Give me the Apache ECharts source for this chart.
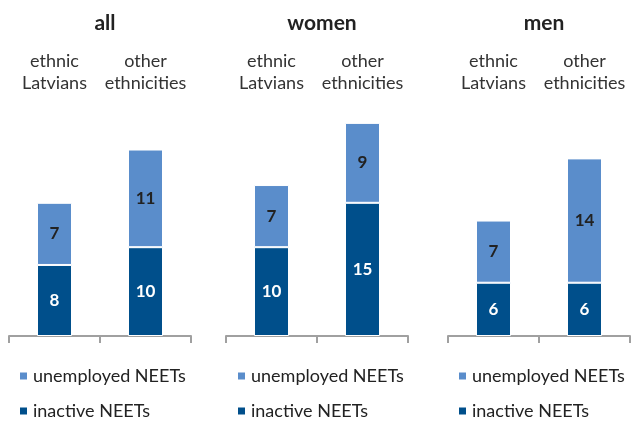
<!DOCTYPE html>
<html>
<head>
<meta charset="utf-8">
<script src="https://cdn.jsdelivr.net/npm/echarts@6/dist/echarts.min.js"></script>
<style>
  html, body { margin: 0; padding: 0; background: #fff; }
  #chart { width: 634px; height: 422px; }
</style>
</head>
<body>
<div id="chart"></div>
<script>
// NEETs by ethnicity, split into three groups
const panels = ['all', 'women', 'men'];
const categories = ['ethnic\nLatvians', 'other\nethnicities'];
const inactive = [[8, 10], [10, 15], [6, 6]];
const unemployed = [[7, 11], [7, 9], [7, 14]];
const seriesNames = ['unemployed NEETs', 'inactive NEETs'];

const FONT = 'Lato, "Open Sans", sans-serif';
const LIGHT = '#5A8DCB';
const DARK = '#004F8B';

const gridLefts = [9, 226, 448];
const gridWidth = 182;
const legendLefts = [18, 236, 457];
const legendTops = [367, 402];

const grids = [], xAxes = [], yAxes = [], series = [], titles = [], legends = [];

panels.forEach((name, i) => {
  grids.push({ left: gridLefts[i], width: gridWidth, top: 114, height: 222 });
  titles.push({
    text: name,
    left: gridLefts[i] + gridWidth / 2,
    top: 8,
    textAlign: 'center',
    textStyle: { fontFamily: FONT, fontSize: 21, fontWeight: 'bold', color: '#222' }
  });
  // bottom axis: baseline with ticks
  xAxes.push({
    type: 'category', gridIndex: i, data: categories, position: 'bottom',
    axisLine: { lineStyle: { color: '#A0A0A0', width: 2 } },
    axisTick: { show: true, length: 7, lineStyle: { color: '#A0A0A0', width: 2 } },
    axisLabel: { show: false }
  });
  // top axis: category names
  xAxes.push({
    type: 'category', gridIndex: i, data: categories, position: 'top',
    axisLine: { show: false }, axisTick: { show: false },
    axisLabel: { interval: 0, margin: 20, fontFamily: FONT, fontSize: 18, lineHeight: 22, color: '#333' }
  });
  yAxes.push({ type: 'value', gridIndex: i, min: 0, max: 25, show: false });

  const base = {
    type: 'bar', xAxisIndex: i * 2, yAxisIndex: i, stack: 'g' + i, barWidth: 35
  };
  series.push(Object.assign({}, base, {
    name: seriesNames[1],
    data: inactive[i],
    itemStyle: { color: DARK, borderColor: '#fff', borderWidth: 1 },
    label: { show: true, position: 'inside', color: '#fff', fontFamily: FONT, fontSize: 17, fontWeight: 'bold' }
  }));
  series.push(Object.assign({}, base, {
    name: seriesNames[0],
    data: unemployed[i],
    itemStyle: { color: LIGHT, borderColor: '#fff', borderWidth: 1 },
    label: { show: true, position: 'inside', color: '#222', fontFamily: FONT, fontSize: 17, fontWeight: 'bold' }
  }));
  // one legend entry per row, under each panel
  seriesNames.forEach((s, r) => {
    legends.push({
      data: [s], left: legendLefts[i], top: legendTops[r], padding: 0,
      itemWidth: 9, itemHeight: 9, icon: 'rect', selectedMode: false,
      textStyle: { fontFamily: FONT, fontSize: 18, color: '#222' }
    });
  });
});

const chart = echarts.init(document.getElementById('chart'));
chart.setOption({
  animation: false,
  color: [LIGHT, DARK],
  title: titles,
  legend: legends,
  grid: grids,
  xAxis: xAxes,
  yAxis: yAxes,
  series: series
});
</script>
</body>
</html>
